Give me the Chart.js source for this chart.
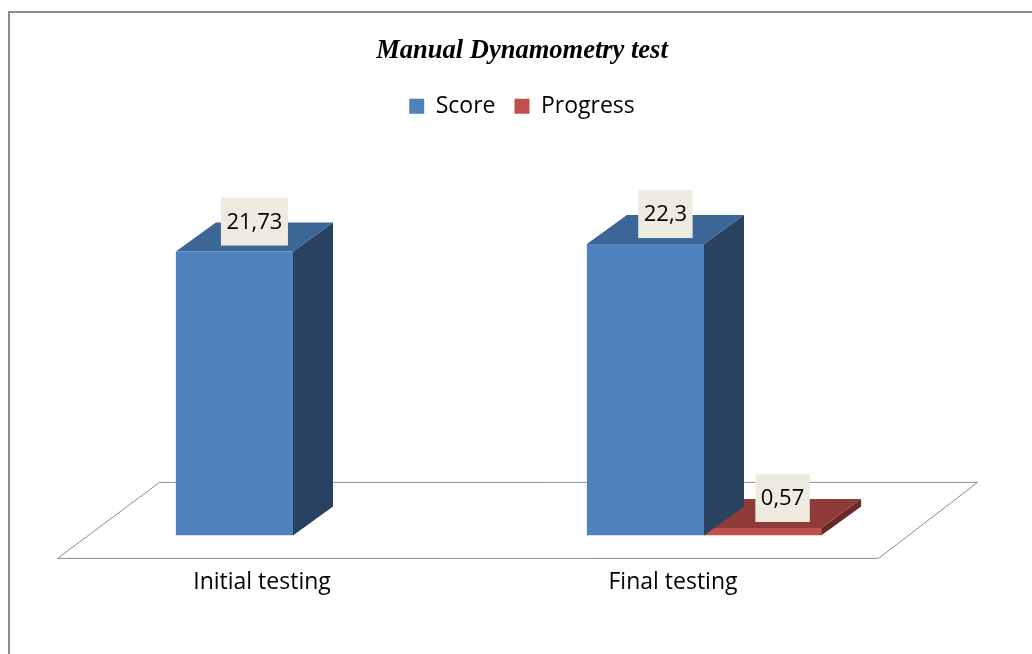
<!DOCTYPE html>
<html>
<head>
<meta charset="utf-8">
<script src="https://cdn.jsdelivr.net/npm/chart.js@4"></script>
<style>
  body { margin: 0; background: #fff; }
  #wrap { width: 1032px; height: 654px; position: relative; }
</style>
</head>
<body>
<div id="wrap"><canvas id="chart"></canvas></div>
<script>
const categories = ["Initial testing", "Final testing"];
const scoreValues = [21.73, 22.3];
const progressValues = [null, 0.57];
const valueLabels = [["21,73", "22,3"], [null, "0,57"]];

// depth of the 3d boxes
const depthX = 40, depthY = 29;

const faceColors = [
    { front: "#4F81BD", top: "#3B6696", side: "#294262" },
    { front: "#C0504D", top: "#8E3B39", side: "#6A2927" }
];

function boxOf(el) {
    const p = el.getProps(["x", "y", "base", "width"], true);
    return { left: p.x - p.width / 2, right: p.x + p.width / 2, top: p.y, base: p.base, x: p.x };
}

function poly(ctx, pts, color) {
    ctx.beginPath();
    ctx.moveTo(pts[0][0], pts[0][1]);
    for (let i = 1; i < pts.length; i++) ctx.lineTo(pts[i][0], pts[i][1]);
    ctx.closePath();
    ctx.fillStyle = color;
    ctx.fill();
}

const bars3d = {
    id: "bars3d",
    beforeDraw(chart) {
        const ctx = chart.ctx;
        ctx.save();
        ctx.strokeStyle = "#8c8c8c";
        ctx.lineWidth = 2;
        ctx.beginPath();
        ctx.moveTo(9, 654);
        ctx.lineTo(9, 12);
        ctx.lineTo(1032, 12);
        ctx.stroke();
        ctx.restore();
    },
    beforeDatasetsDraw(chart) {
        // floor
        const a = chart.chartArea, ctx = chart.ctx;
        const fy = a.bottom + 23, by = a.bottom - 53;
        ctx.save();
        ctx.beginPath();
        ctx.moveTo(a.left - 30, fy);
        ctx.lineTo(a.left + 72, by);
        ctx.lineTo(a.right + 68, by);
        ctx.lineTo(a.right - 31, fy);
        ctx.closePath();
        ctx.fillStyle = "#fff";
        ctx.fill();
        ctx.strokeStyle = "#8c8c8c";
        ctx.lineWidth = 1;
        ctx.stroke();
        ctx.restore();
    },
    beforeDatasetDraw(chart, args) {
        const ctx = chart.ctx;
        const c = faceColors[args.index];
        const data = chart.data.datasets[args.index].data;
        ctx.save();
        args.meta.data.forEach((el, i) => {
            if (data[i] == null) return;
            const b = boxOf(el);
            poly(ctx, [[b.right, b.top], [b.right + depthX, b.top - depthY],
                       [b.right + depthX, b.base - depthY], [b.right, b.base]], c.side);
            poly(ctx, [[b.left, b.top], [b.right, b.top],
                       [b.right + depthX, b.top - depthY], [b.left + depthX, b.top - depthY]], c.top);
        });
        ctx.restore();
    },
    afterDatasetsDraw(chart) {
        const ctx = chart.ctx;
        ctx.save();
        ctx.font = "22px 'Open Sans'";
        ctx.textAlign = "center";
        ctx.textBaseline = "middle";
        chart.data.datasets.forEach((ds, d) => {
            chart.getDatasetMeta(d).data.forEach((el, i) => {
                const txt = valueLabels[d][i];
                if (txt == null) return;
                const b = boxOf(el);
                const w = ctx.measureText(txt).width + 11, h = 48;
                const cx = b.x + depthX / 2, bottom = b.top - 6;
                ctx.fillStyle = "#EEECE1";
                ctx.fillRect(cx - w / 2, bottom - h, w, h);
                ctx.fillStyle = "#000";
                ctx.fillText(txt, cx, bottom - h / 2 + 1);
            });
        });
        ctx.restore();
    }
};

new Chart(document.getElementById("chart"), {
    type: "bar",
    data: {
        labels: categories,
        datasets: [
            { label: "Score", data: scoreValues, backgroundColor: faceColors[0].front },
            { label: "Progress", data: progressValues, backgroundColor: faceColors[1].front }
        ]
    },
    options: {
        responsive: true,
        maintainAspectRatio: false,
        animation: false,
        layout: { padding: { left: 12, right: 0, top: 0, bottom: 25 } },
        datasets: { bar: { categoryPercentage: 0.57, barPercentage: 1 } },
        scales: {
            x: {
                grid: { display: false, drawTicks: false },
                border: { display: false },
                ticks: { color: "#000", font: { family: "'Open Sans'", size: 23 }, padding: 33, labelOffset: -31 }
            },
            y: {
                min: 0, max: 31.2,
                grid: { display: false, drawTicks: false },
                border: { display: false },
                ticks: { display: false },
                afterFit(s) { s.width = 75.5; }
            },
            y2: {
                position: "right",
                grid: { display: false, drawTicks: false },
                border: { display: false },
                ticks: { display: false },
                afterFit(s) { s.width = 122.5; }
            }
        },
        plugins: {
            title: {
                display: true,
                text: "Manual Dynamometry test",
                color: "#000",
                font: { family: "'Liberation Serif'", size: 26.5, style: "italic", weight: "bold" },
                padding: { top: 35, bottom: 9 }
            },
            legend: {
                labels: {
                    color: "#000",
                    boxWidth: 15, boxHeight: 15,
                    padding: 19,
                    font: { family: "'Open Sans'", size: 23 }
                }
            },
            tooltip: { enabled: false }
        }
    },
    plugins: [bars3d]
});
</script>
</body>
</html>
